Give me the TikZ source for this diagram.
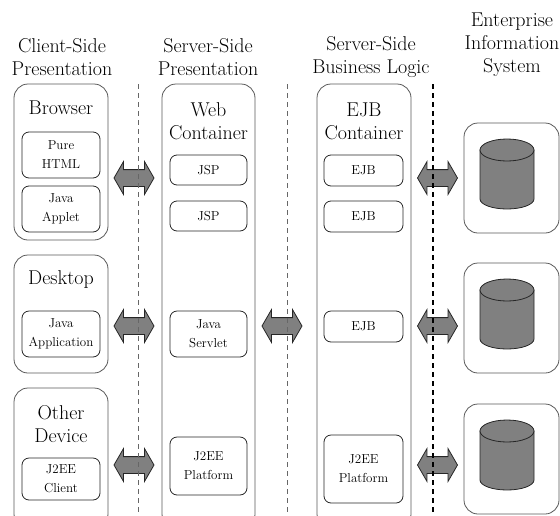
\documentclass[tikz,border=0pt]{standalone}
\usetikzlibrary{shapes.arrows}

\begin{document}
\begin{tikzpicture}[x=1pt,y=-1pt,line width=0.8pt,
  outer/.style={draw=black!65,rounded corners=14pt,minimum width=94pt},
  inner/.style={draw=black!85,rounded corners=7pt,minimum width=78pt,align=center,font=\fontsize{13}{19}\selectfont},
  head/.style={align=center,font=\fontsize{20}{23}\selectfont},
  fatarrow/.style={shape=double arrow,draw=black!85,fill=black!50,minimum height=40pt,minimum width=32pt,double arrow head extend=8pt,double arrow tip angle=120,inner xsep=0pt,inner ysep=8pt},
  tier/.style={dash pattern=on 5pt off 4pt},
  dbfill/.style={draw=black!85,fill=black!50}]
\useasboundingbox (0,0) rectangle (560,515);
% column titles
\node[head] (hclient) at (62,57) {Client-Side\\Presentation};
\node[head] (hweb) at (208,57) {Server-Side\\Presentation};
\node[head] (hejb) at (371,57) {Server-Side\\Business Logic};
\node[head] (heis) at (512,45) {Enterprise\\Information\\System};
% containers
\node[outer,minimum height=156pt] (browser) at (61,162) {};
\node[outer,minimum height=118pt] (desktop) at (61,314) {};
\node[outer,minimum height=140pt] (device) at (61,458) {};
\node[outer,minimum width=93pt,minimum height=444pt] (web) at (208.5,306) {};
\node[outer,minimum height=444pt] (ejb) at (364,306) {};
\node[outer,minimum width=95pt,minimum height=110pt] (eisa) at (511.5,178) {};
\node[outer,minimum width=95pt,minimum height=110pt] (eisb) at (511.5,318) {};
\node[outer,minimum width=95pt,minimum height=110pt] (eisc) at (511.5,459) {};
\node[head] (lbrowser) at (61,108) {Browser};
\node[head] (ldesktop) at (61,280) {Desktop};
\node[head] (ldevice) at (61,424) {Other\\Device};
\node[head] (lweb) at (208.5,121) {Web\\Container};
\node[head] (lejb) at (364,121) {EJB\\Container};
% components
\node[inner,minimum height=46pt] (html) at (61,155) {Pure\\HTML};
\node[inner,minimum height=46pt] (applet) at (61,209) {Java\\Applet};
\node[inner,minimum height=46pt] (app) at (61,334) {Java\\Application};
\node[inner,minimum height=42pt] (client) at (61,479) {J2EE\\Client};
\node[inner,minimum width=77pt,minimum height=30pt] (jspa) at (208.5,170) {JSP};
\node[inner,minimum width=77pt,minimum height=30pt] (jspb) at (208.5,216) {JSP};
\node[inner,minimum width=77pt,minimum height=46pt] (servlet) at (208.5,334) {Java\\Servlet};
\node[inner,minimum width=77pt,minimum height=58pt] (wplatform) at (208.5,466) {J2EE\\Platform};
\node[inner,minimum width=79pt,minimum height=31pt] (ejba) at (363.5,170.5) {EJB};
\node[inner,minimum width=79pt,minimum height=31pt] (ejbb) at (363.5,216.5) {EJB};
\node[inner,minimum width=79pt,minimum height=31pt] (ejbc) at (363.5,326.5) {EJB};
\node[inner,minimum width=79pt,minimum height=68pt] (eplatform) at (363.5,469) {J2EE\\Platform};
% databases
\foreach \t in {150,290,431} {
  \filldraw[dbfill] (480,\t) -- (480,\t+49) arc[start angle=180,end angle=0,x radius=27,y radius=10] -- (534,\t) -- cycle;
  \filldraw[dbfill] (507,\t) ellipse [x radius=27,y radius=11];
}
% links
\foreach \x/\y [count=\i] in {134/178,134/326,134/465,282/326,437.5/178,437.5/326,437.5/465}
  \node[fatarrow] (link\i) at (\x,\y) {};
% tier borders
\draw[tier,black!60] (138,84) -- (138,515);
\draw[tier,black!60] (287,84) -- (287,515);
\draw[tier,line width=1.8pt] (433,84) -- (433,515);
\end{tikzpicture}
\end{document}
